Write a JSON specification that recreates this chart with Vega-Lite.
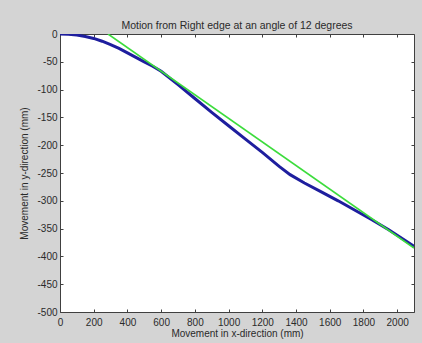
{
  "$schema": "https://vega.github.io/schema/vega-lite/v6.json",
  "width": 354,
  "height": 278,
  "autosize": "none",
  "padding": {"left": 60, "top": 34, "right": 8, "bottom": 31},
  "background": "#d4d4d4",
  "config": {
    "view": {"fill": "#ffffff", "stroke": "#404040", "strokeWidth": 1},
    "font": "Liberation Sans",
    "axis": {
      "domain": false,
      "grid": false,
      "tickColor": "#404040",
      "tickSize": -3,
      "labelColor": "#2a2a2a",
      "labelFontSize": 10,
      "titleColor": "#2a2a2a",
      "titleFontSize": 10,
      "titleFontWeight": "normal"
    }
  },
  "title": {
    "text": "Motion from Right edge at an angle of 12 degrees",
    "fontSize": 10.5,
    "fontWeight": "normal",
    "color": "#2a2a2a",
    "offset": -2
  },
  "data": {
    "values": [
      {"series": "measured", "x": 0, "y": 0},
      {"series": "measured", "x": 50, "y": -0.5},
      {"series": "measured", "x": 100, "y": -2},
      {"series": "measured", "x": 150, "y": -4.5},
      {"series": "measured", "x": 200, "y": -8},
      {"series": "measured", "x": 250, "y": -13},
      {"series": "measured", "x": 300, "y": -19},
      {"series": "measured", "x": 350, "y": -26},
      {"series": "measured", "x": 400, "y": -34},
      {"series": "measured", "x": 450, "y": -42},
      {"series": "measured", "x": 500, "y": -50},
      {"series": "measured", "x": 550, "y": -58},
      {"series": "measured", "x": 600, "y": -67},
      {"series": "measured", "x": 700, "y": -91},
      {"series": "measured", "x": 800, "y": -116},
      {"series": "measured", "x": 900, "y": -141},
      {"series": "measured", "x": 1000, "y": -165},
      {"series": "measured", "x": 1100, "y": -189},
      {"series": "measured", "x": 1200, "y": -213},
      {"series": "measured", "x": 1300, "y": -238},
      {"series": "measured", "x": 1365, "y": -253},
      {"series": "measured", "x": 1450, "y": -268},
      {"series": "measured", "x": 1550, "y": -284},
      {"series": "measured", "x": 1650, "y": -300},
      {"series": "measured", "x": 1750, "y": -317},
      {"series": "measured", "x": 1850, "y": -334},
      {"series": "measured", "x": 1950, "y": -352},
      {"series": "measured", "x": 2050, "y": -372},
      {"series": "measured", "x": 2100, "y": -382},
      {"series": "fit", "x": 285, "y": 0},
      {"series": "fit", "x": 2100, "y": -385}
    ]
  },
  "layer": [
    {
      "transform": [{"filter": "datum.series == 'measured'"}],
      "mark": {"type": "line", "color": "#1e1e9e", "strokeWidth": 3, "clip": true},
      "encoding": {
        "x": {
          "field": "x", "type": "quantitative",
          "scale": {"domain": [0, 2100], "nice": false, "zero": false},
          "axis": {"orient": "bottom", "values": [0,200,400,600,800,1000,1200,1400,1600,1800,2000], "format": "d", "title": "Movement in x-direction (mm)", "labelPadding": 8, "titlePadding": 1, "labelFlush": false}
        },
        "y": {
          "field": "y", "type": "quantitative",
          "scale": {"domain": [-500, 0], "nice": false, "zero": false},
          "axis": {"orient": "left", "values": [-500,-450,-400,-350,-300,-250,-200,-150,-100,-50,0], "title": "Movement in y-direction (mm)", "labelPadding": 6, "titlePadding": 7, "labelExpr": "replace(datum.label, '\u2212', '-')"}
        }
      }
    },
    {
      "transform": [{"filter": "datum.series == 'fit'"}],
      "mark": {"type": "line", "color": "#3cdc3c", "strokeWidth": 1.6, "clip": true},
      "encoding": {
        "x": {
          "field": "x", "type": "quantitative",
          "scale": {"domain": [0, 2100], "nice": false, "zero": false},
          "axis": {"orient": "top", "values": [0,200,400,600,800,1000,1200,1400,1600,1800,2000], "title": null, "labels": false}
        },
        "y": {
          "field": "y", "type": "quantitative",
          "scale": {"domain": [-500, 0], "nice": false, "zero": false},
          "axis": {"orient": "right", "values": [-500,-450,-400,-350,-300,-250,-200,-150,-100,-50,0], "title": null, "labels": false}
        }
      }
    }
  ],
  "resolve": {"axis": {"x": "independent", "y": "independent"}}
}
